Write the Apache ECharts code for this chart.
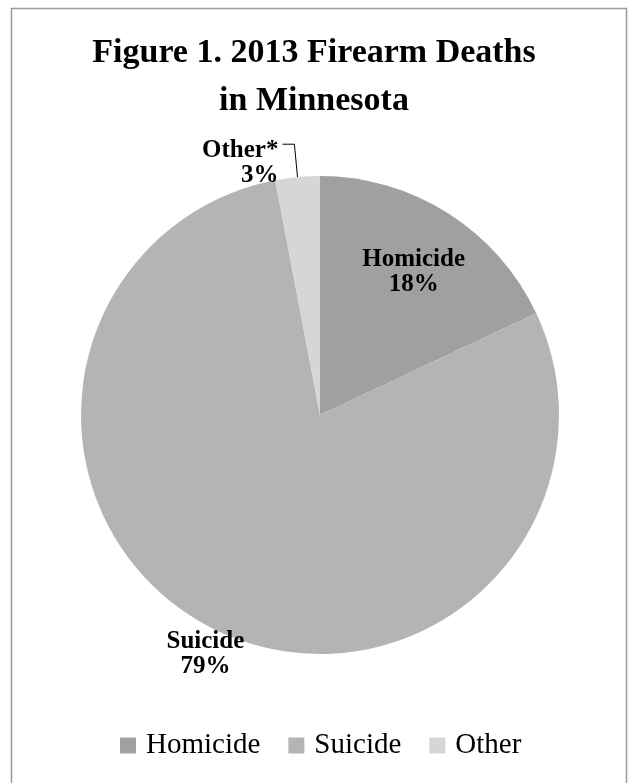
<!DOCTYPE html>
<html><head><meta charset="utf-8">
<script src="https://cdn.jsdelivr.net/npm/echarts@6/dist/echarts.min.js"></script>
<style>html,body{margin:0;padding:0;background:#fff}#c{width:628px;height:783px}</style>
</head><body><div id="c"></div>
<script>
var categories = ['Homicide', 'Suicide', 'Other'];
var values = [18, 79, 3];
var labelNames = ['Homicide', 'Suicide', 'Other*'];
var colors = ['#a0a0a0', '#b4b4b4', '#d6d6d6'];
var titleText = 'Figure 1. 2013 Firearm Deaths\nin Minnesota';

var font = '"Liberation Serif", "DejaVu Serif", serif';
var offsets = [[28, -40], [-59, 130], [1, 19]];

var data = categories.map(function (c, i) {
  var item = { name: c, value: values[i], itemStyle: { color: colors[i] } };
  if (i < 2) {
    item.label = { position: 'inside' };
    item.labelLine = { show: false };
  } else {
    item.label = { position: 'outside' };
    item.labelLine = { show: true, length: 33, length2: 12, lineStyle: { color: '#000', width: 1 } };
  }
  return item;
});

var chart = echarts.init(document.getElementById('c'));
chart.setOption({
  animation: false,
  graphic: [{ type: 'rect', shape: { x: 11.5, y: 8.5, width: 615, height: 800 }, style: { fill: 'none', stroke: '#9a9a9a', lineWidth: 1.5 }, silent: true }],
  title: {
    text: titleText, left: 'center', top: 24,
    textStyle: { fontFamily: font, fontWeight: 'bold', fontSize: 34, lineHeight: 48, color: '#000' }
  },
  legend: {
    bottom: 18, left: 115, itemWidth: 16, itemHeight: 16, itemGap: 28, icon: 'rect',
    textStyle: { fontFamily: font, fontSize: 29, color: '#000', padding: [0, 0, 0, 5] },
    data: categories
  },
  series: [{
    type: 'pie', center: [320, 415], radius: 239, startAngle: 90, clockwise: true,
    avoidLabelOverlap: false,
    label: {
      fontFamily: font, fontWeight: 'bold', fontSize: 25, lineHeight: 25, color: '#000',
      formatter: function (p) { return labelNames[p.dataIndex] + '\n' + p.value + '%'; }
    },
    labelLayout: function (p) {
      var o = offsets[p.dataIndex];
      return { dx: o[0], dy: o[1] };
    },
    emphasis: { disabled: true },
    data: data
  }]
});
</script></body></html>
